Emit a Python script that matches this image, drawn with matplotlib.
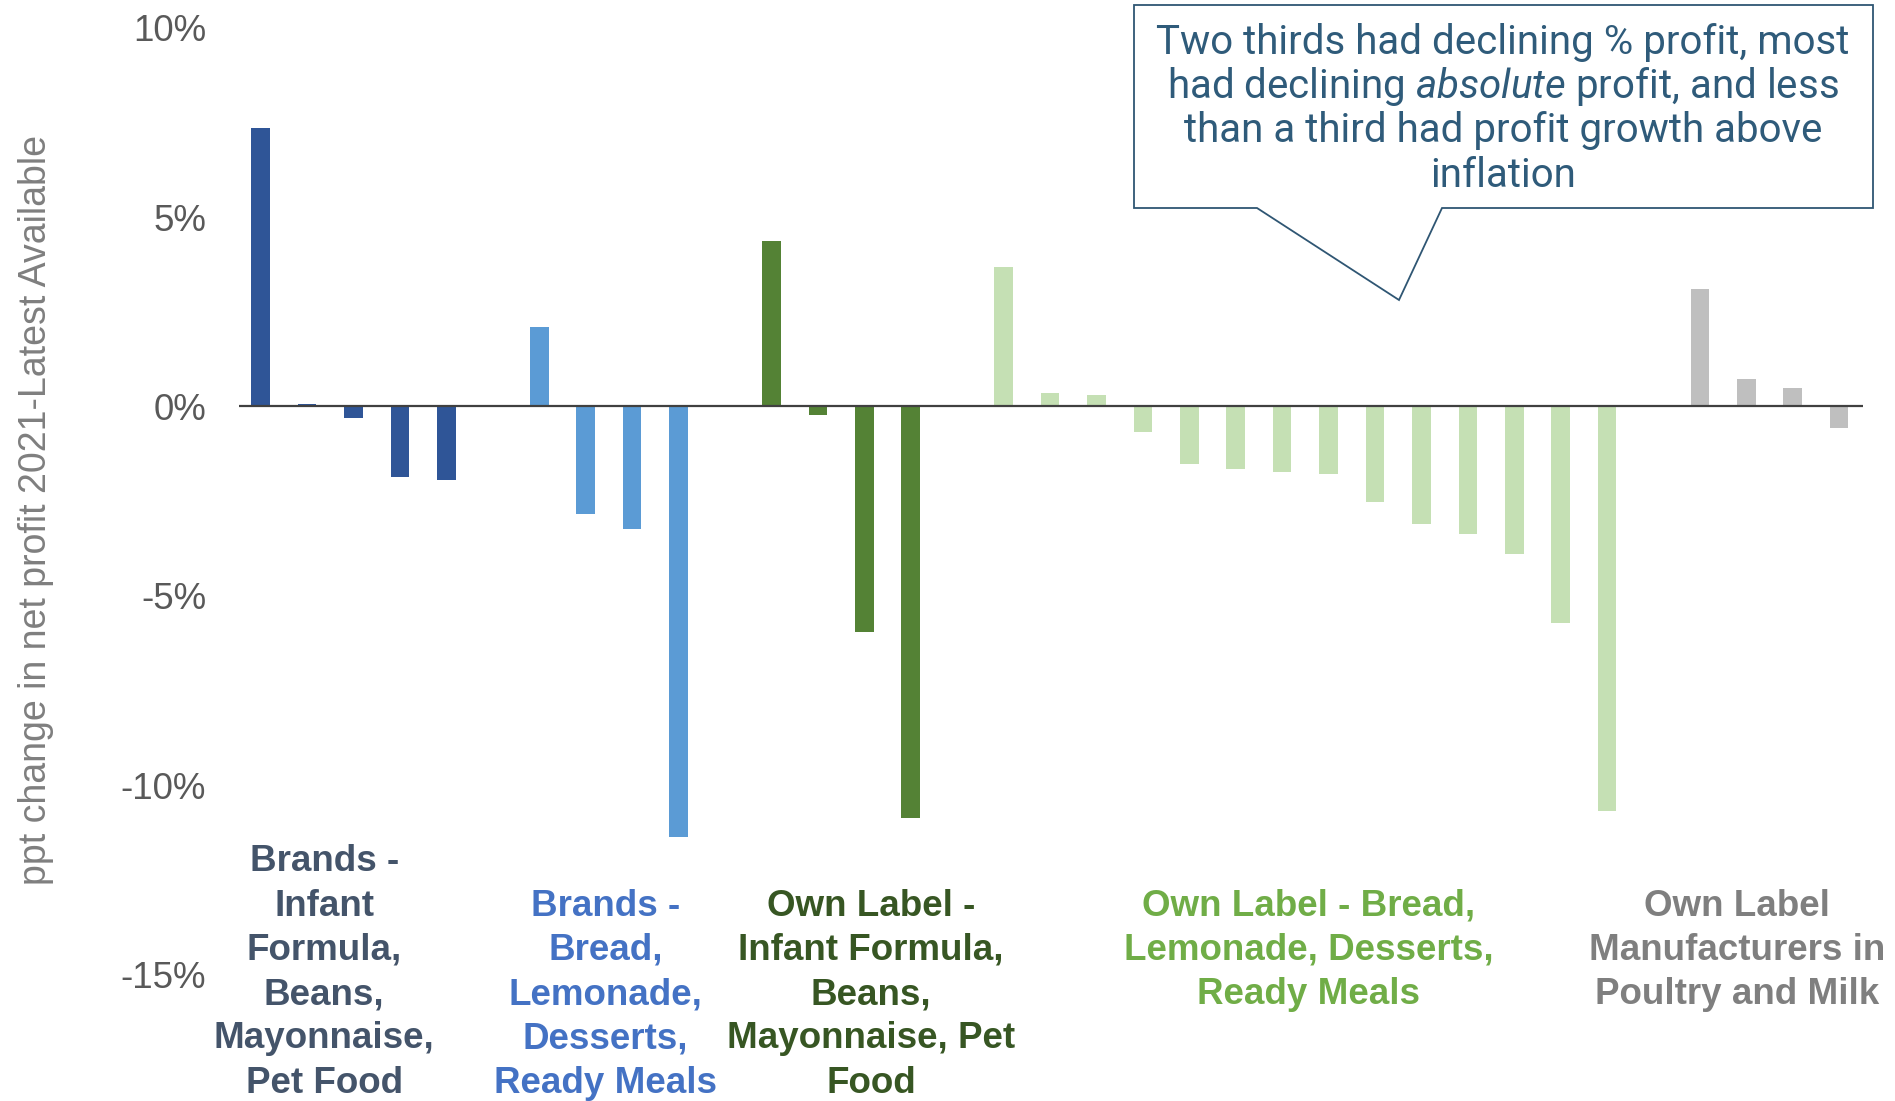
import matplotlib
matplotlib.use("Agg")
import matplotlib.pyplot as plt
from matplotlib.patches import Polygon

plt.rcParams['font.family'] = ['Liberation Sans', 'DejaVu Sans']
plt.rcParams['mathtext.fontset'] = 'custom'
plt.rcParams['mathtext.rm'] = 'Roboto'
plt.rcParams['mathtext.it'] = 'Roboto:italic'

# ppt change in net profit, one list per group of manufacturers
brands_core = [7.35, 0.07, -0.3, -1.87, -1.93]
brands_other = [2.1, -2.85, -3.22, -11.37]
own_core = [4.38, -0.23, -5.96, -10.85]
own_other = [3.67, 0.35, 0.29, -0.67, -1.53, -1.66, -1.73, -1.79,
             -2.52, -3.1, -3.36, -3.9, -5.72, -10.67]
own_poultry_milk = [3.1, 0.73, 0.48, -0.57]

group_labels = [
    "Brands -\nInfant\nFormula,\nBeans,\nMayonnaise,\nPet Food",
    "Brands -\nBread,\nLemonade,\nDesserts,\nReady Meals",
    "Own Label -\nInfant Formula,\nBeans,\nMayonnaise, Pet\nFood",
    "Own Label - Bread,\nLemonade, Desserts,\nReady Meals",
    "Own Label\nManufacturers in\nPoultry and Milk",
]
ytick_values = [-15, -10, -5, 0, 5, 10]
ytick_labels = ['-15%', '-10%', '-5%', '0%', '5%', '10%']

groups = [brands_core, brands_other, own_core, own_other, own_poultry_milk]
bar_colors = ['#2F5597', '#5B9BD5', '#548235', '#C5E0B4', '#BFBFBF']
label_colors = ['#44546A', '#4472C4', '#375623', '#70AD47', '#7F7F7F']
label_x = [1.37, 7.43, 13.15, 22.57, 31.8]
label_top = [-11.55, -12.72, -12.72, -12.72, -12.72]

callout_lines = [
    "Two thirds had declining % profit, most",
    r"had declining $\mathit{absolute}$ profit, and less",
    "than a third had profit growth above",
    "inflation",
]

W, H = 1895, 1101
fig = plt.figure(figsize=(W / 100, H / 100), dpi=100)
ax = fig.add_axes([0.1263, 0.1145, 0.857, 0.8605])

pos = 0
for vals, col in zip(groups, bar_colors):
    xs = list(range(pos, pos + len(vals)))
    ax.bar(xs, vals, width=0.4, color=col, zorder=2)
    pos += len(vals) + 1

ax.axhline(0, color='#404040', lw=1.6, zorder=3)
ax.set_xlim(-0.46, pos - 1 - 0.48)
ax.set_ylim(-15, 10)
ax.set_yticks(ytick_values)
ax.set_yticklabels(ytick_labels)
ax.set_xticks([])
ax.tick_params(axis='y', length=0, pad=24, labelsize=26.5, labelcolor='#595959')
for s in ax.spines.values():
    s.set_visible(False)

for lx, ly, txt, c in zip(label_x, label_top, group_labels, label_colors):
    ax.text(lx, ly, txt, ha='center', va='top', fontsize=26.5, fontweight='bold',
            color=c, linespacing=1.345)

fig.text(36 / W, 1 - 510 / H, "ppt change in net profit 2021-Latest Available",
         rotation=90, ha='center', va='center', fontsize=27, color='#7F7F7F')

# callout box with pointer (figure pixels)
pts = [(1134, 5), (1873, 5), (1873, 208), (1442, 208), (1399, 300),
       (1257, 208), (1134, 208)]
poly = Polygon([(x / W, 1 - y / H) for x, y in pts], closed=True,
               transform=fig.transFigure, facecolor='white',
               edgecolor='#2F5673', lw=1.3, zorder=5)
fig.patches.append(poly)

for i, line in enumerate(callout_lines):
    fig.text(1503 / W, 1 - (42 + 44.5 * i) / H, line, ha='center', va='center',
             fontsize=29, family='Roboto', color='#2F5B7A', zorder=6)

fig.savefig("out.png", dpi=100)
